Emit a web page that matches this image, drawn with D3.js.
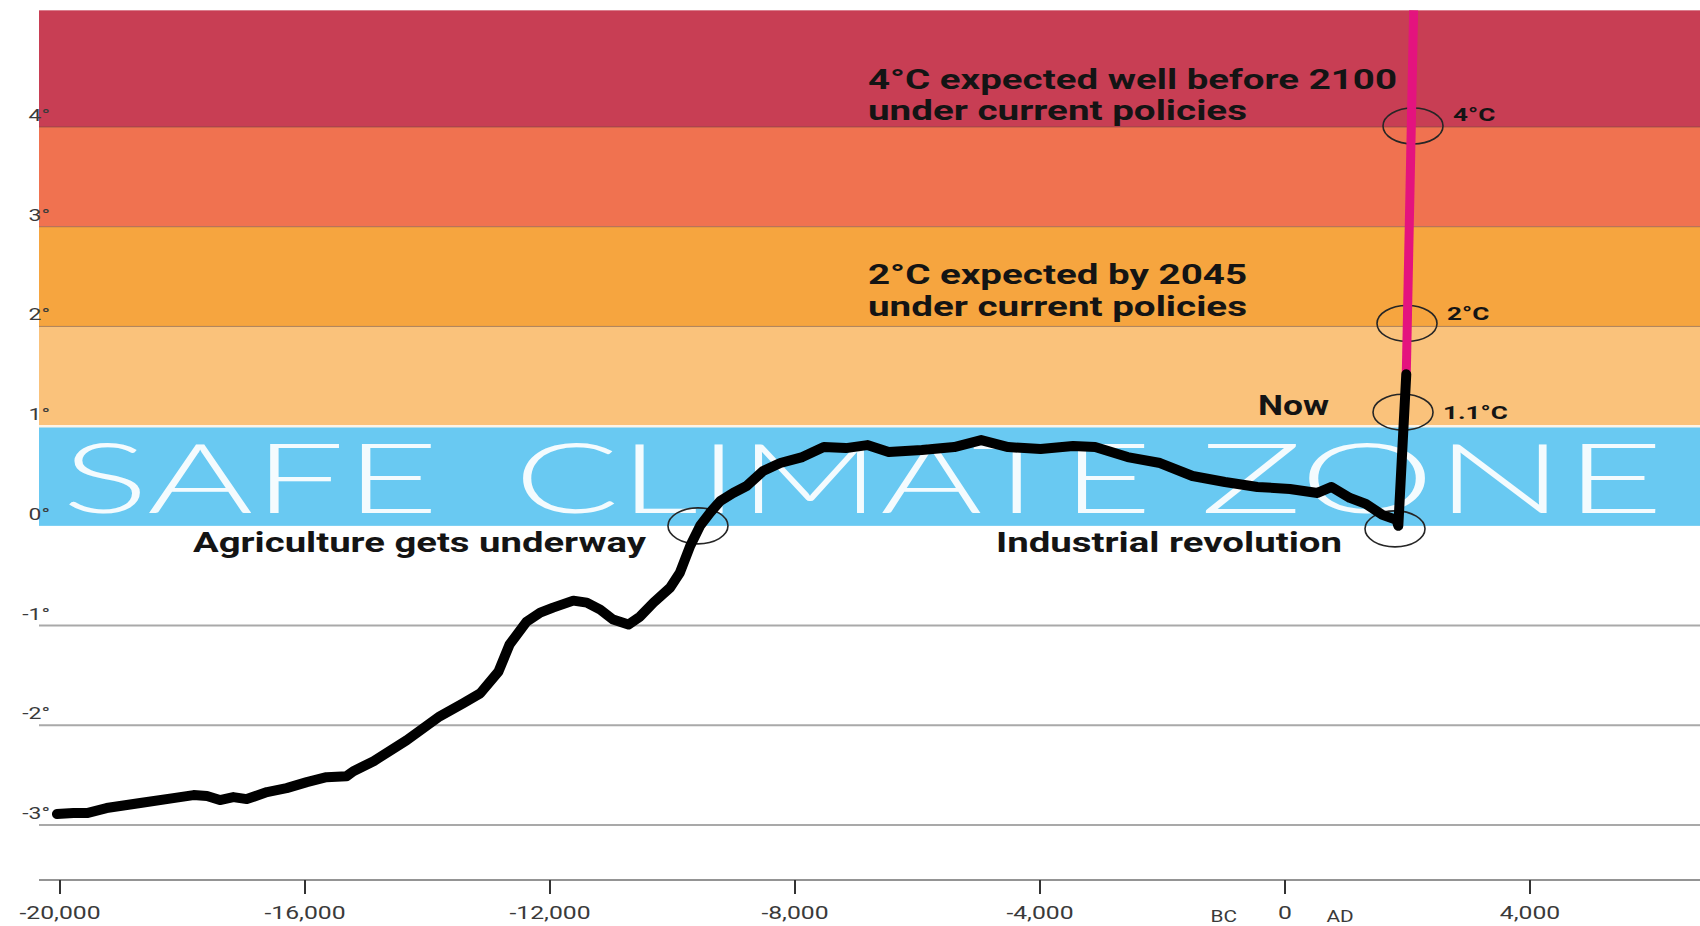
<!DOCTYPE html>
<html lang="en">
<head>
<meta charset="utf-8">
<style>
  body { margin: 0; background: white; }
  svg { display: block; background: white; font-family: 'Roboto', 'Noto Sans', sans-serif; }
  .band-line { stroke: #6e4b3c; stroke-opacity: .55; stroke-width: 1; }
  .grid-line { stroke: #a9a9a9; stroke-width: 2; }
  .note { font-weight: 700; fill: #141414; }
  .tick-label { fill: #3a3a3a; font-size: 17px; }
  .ring { fill: none; stroke: #262626; stroke-width: 1.6; }
</style>
</head>
<body>
<svg width="1700" height="926"></svg>
<script src="https://d3js.org/d3.v7.min.js"></script>
<script>
// temperature anomaly vs. years (negative = BC)
var years = [-20050, -19780, -19560, -19240, -18690, -18150, -17820, -17600, -17390, -17170,
  -16950, -16620, -16300, -15970, -15650, -15320, -15210, -14880, -14340, -13800,
  -13420, -13140, -12840, -12660, -12380, -12160, -11950, -11620, -11400, -11180,
  -10970, -10720, -10530, -10310, -10040, -9880, -9710, -9550, -9390, -9220,
  -9010, -8790, -8520, -8240, -7880, -7530, -7170, -6820, -6470, -5930,
  -5400, -4960, -4520, -3990, -3460, -3100, -2570, -2040, -1510, -980,
  -450, 80, 530, 760, 1060, 1320, 1590, 1820, 1850, 1980];
var temps = [-2.89, -2.88, -2.88, -2.83, -2.78, -2.73, -2.70, -2.71, -2.75, -2.72,
  -2.74, -2.67, -2.63, -2.57, -2.52, -2.51, -2.46, -2.36, -2.15, -1.91,
  -1.78, -1.68, -1.46, -1.19, -0.96, -0.87, -0.82, -0.75, -0.77, -0.84,
  -0.94, -0.99, -0.91, -0.77, -0.62, -0.47, -0.20, 0.00, 0.13, 0.25,
  0.33, 0.40, 0.55, 0.63, 0.69, 0.79, 0.78, 0.81, 0.74, 0.76,
  0.79, 0.86, 0.79, 0.77, 0.80, 0.79, 0.69, 0.63, 0.50, 0.44,
  0.39, 0.37, 0.33, 0.39, 0.28, 0.22, 0.11, 0.06, 0.00, 1.52];

// projection under current policies
var projYears = [1980, 2100];
var projTemps = [1.52, 5.17];

// warming bands
var bandFrom = [0, 1, 2, 3, 4];
var bandTo = [1, 2, 3, 4, 5.17];
var bandColors = ["#69c9f2", "#fac27b", "#f6a53f", "#f07250", "#c83e54"];

var yTicks = [-3, -2, -1, 0, 1, 2, 3, 4];
var xTicks = [-20000, -16000, -12000, -8000, -4000, 0, 4000];

// circled points
var ringYears = [-9584, 1796, 1927, 1992, 2090];
var ringTemps = [0.0, -0.03, 1.14, 2.03, 4.01];
var ringLabels = ["", "", "1.1°C", "2°C", "4°C"];

var svg = d3.select("svg");
var left = 39, right = 1700;

var x = d3.scaleLinear().domain([-20000, 4000]).range([60, 1530]);
var y = d3.scaleLinear().domain([-3, 4]).range([825, 127]);

function stretch(sel, k) {
  sel.each(function () {
    var w = this.getComputedTextLength();
    d3.select(this).attr("textLength", w * k).attr("lengthAdjust", "spacingAndGlyphs");
  });
}

// bands
svg.append("g").selectAll("rect")
  .data(bandFrom)
  .enter().append("rect")
    .attr("x", left)
    .attr("width", right - left)
    .attr("y", (d, i) => y(bandTo[i]))
    .attr("height", (d, i) => y(d) - y(bandTo[i]))
    .attr("fill", (d, i) => bandColors[i]);

svg.append("line")
  .attr("x1", left).attr("x2", right)
  .attr("y1", y(1)).attr("y2", y(1))
  .attr("stroke", "#fdf3e6").attr("stroke-width", 2.5);

svg.append("g").selectAll("line")
  .data([2, 3, 4])
  .enter().append("line")
    .attr("class", "band-line")
    .attr("x1", left).attr("x2", right)
    .attr("y1", d => y(d)).attr("y2", d => y(d));

// big label inside the blue band
var safeWords = [["SAFE", 62, 439], ["CLIMATE", 514, 1152], ["ZONE", 1200, 1664]];
svg.append("g").selectAll("text")
  .data(safeWords)
  .enter().append("text")
    .attr("x", d => d[1])
    .attr("y", y(0) - 13)
    .attr("textLength", d => d[2] - d[1])
    .attr("lengthAdjust", "spacingAndGlyphs")
    .style("font-family", "Lato, 'Open Sans', sans-serif")
    .style("font-weight", 300)
    .style("font-size", "97px")
    .attr("fill", "#ffffff")
    .attr("fill-opacity", 0.93)
    .text(d => d[0]);

// grid below zero
svg.append("g").selectAll("line")
  .data(yTicks.filter(d => d < 0))
  .enter().append("line")
    .attr("class", "grid-line")
    .attr("x1", left).attr("x2", right)
    .attr("y1", d => y(d)).attr("y2", d => y(d));

// y labels
var yl = svg.append("g").selectAll("text")
  .data(yTicks)
  .enter().append("text")
    .attr("class", "tick-label")
    .attr("x", 50)
    .attr("y", d => y(d) - 6)
    .attr("text-anchor", "end")
    .text(d => (d < 0 ? "-" + Math.abs(d) : d) + "°");
stretch(yl, 1.35);

// x axis
var xAxis = svg.append("g").attr("transform", "translate(0,880)");
xAxis.append("line")
  .attr("x1", left).attr("x2", right)
  .attr("stroke", "#707070").attr("stroke-width", 1.5);
xAxis.selectAll(".tk")
  .data(xTicks)
  .enter().append("line")
    .attr("class", "tk")
    .attr("x1", d => x(d)).attr("x2", d => x(d))
    .attr("y1", 0).attr("y2", 14)
    .attr("stroke", "#333").attr("stroke-width", 2);
var fmt = d3.format(",");
var xl = xAxis.selectAll(".xl")
  .data(xTicks)
  .enter().append("text")
    .attr("class", "tick-label xl")
    .attr("y", 39)
    .style("font-size", "19px")
    .text(d => fmt(d).replace("−", "-"));
xl.each(function (d) {
  var w = this.getComputedTextLength() * 1.3;
  d3.select(this)
    .attr("x", x(d) - w / 2)
    .attr("textLength", w)
    .attr("lengthAdjust", "spacingAndGlyphs");
});
var era = xAxis.selectAll(".era")
  .data([["BC", -1000], ["AD", 900]])
  .enter().append("text")
    .attr("class", "tick-label era")
    .attr("y", 42)
    .style("font-size", "16px")
    .text(d => d[0]);
era.each(function (d) {
  var w = this.getComputedTextLength() * 1.3;
  d3.select(this)
    .attr("x", x(d[1]) - w / 2)
    .attr("textLength", w)
    .attr("lengthAdjust", "spacingAndGlyphs");
});

// notes
var notes = [
  ["4°C expected well before 2100", 868, 89, 529],
  ["under current policies", 868, 120, 379],
  ["2°C expected by 2045", 868, 284, 379],
  ["under current policies", 868, 316, 379],
  ["Now", 1258, 415, 71],
  ["Agriculture gets underway", 193, 552, 453],
  ["Industrial revolution", 996, 552, 346]
];
svg.append("g").selectAll("text")
  .data(notes)
  .enter().append("text")
    .attr("class", "note")
    .attr("x", d => d[1])
    .attr("y", d => d[2])
    .attr("textLength", d => d[3])
    .attr("lengthAdjust", "spacingAndGlyphs")
    .style("font-size", "27px")
    .text(d => d[0]);

// rings
svg.append("g").selectAll("ellipse")
  .data(ringYears)
  .enter().append("ellipse")
    .attr("class", "ring")
    .attr("cx", d => x(d))
    .attr("cy", (d, i) => y(ringTemps[i]))
    .attr("rx", 30)
    .attr("ry", 18);

var ringDy = { "1.1°C": 7, "2°C": -3, "4°C": -5 };
var rl = svg.append("g").selectAll("text")
  .data(ringYears.filter((d, i) => ringLabels[i]))
  .enter().append("text")
    .attr("class", "note")
    .style("font-size", "18px")
    .attr("x", d => x(d) + 40)
    .attr("y", d => { var i = ringYears.indexOf(d); return y(ringTemps[i]) + ringDy[ringLabels[i]]; })
    .text(d => ringLabels[ringYears.indexOf(d)]);
stretch(rl, 1.45);

// lines
var line = d3.line()
  .x(d => x(d[0]))
  .y(d => y(d[1]));

svg.append("path")
  .datum(projYears.map((d, i) => [d, projTemps[i]]))
  .attr("d", line)
  .attr("fill", "none")
  .attr("stroke", "#e4137e")
  .attr("stroke-width", 9);

svg.append("path")
  .datum(years.map((d, i) => [d, temps[i]]))
  .attr("d", line)
  .attr("fill", "none")
  .attr("stroke", "#000")
  .attr("stroke-width", 10)
  .attr("stroke-linejoin", "round")
  .attr("stroke-linecap", "round");
</script>
</body>
</html>
